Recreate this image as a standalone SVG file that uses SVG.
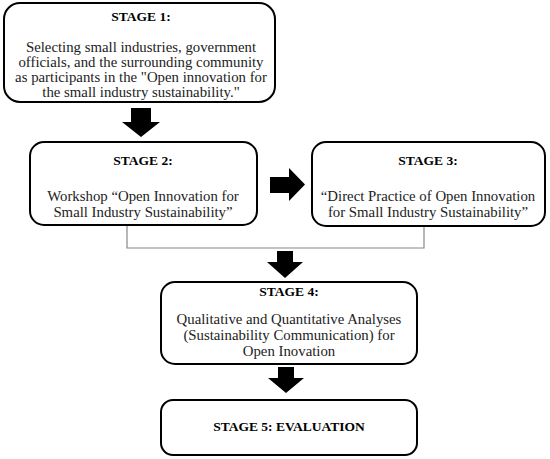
<svg xmlns="http://www.w3.org/2000/svg" width="550" height="459" viewBox="0 0 550 459">
<style>
.box{fill:#fff;stroke:#000;stroke-width:2}
.t{font-family:"Liberation Serif","Times New Roman",serif;font-size:14.8px;fill:#222;text-anchor:middle}
.h{font-family:"Liberation Serif","Times New Roman",serif;font-size:13.5px;font-weight:bold;fill:#000;text-anchor:middle}
.arr{fill:#000}
.con{fill:none;stroke:#888;stroke-width:1.2}
</style>
<rect width="550" height="459" fill="#fff"/>
<g id="connectors">
<polyline class="con" points="127,225 127,248 424,248 424,226"/>
<polygon class="arr" points="131,108 151,108 151,122 160,122 141,137 122,122 131,122"/>
<polygon class="arr" points="270,177 289,177 289,168 305,184.5 289,201 289,193 270,193"/>
<polygon class="arr" points="277,251 293,251 293,262 303,262 285,278 267,262 277,262"/>
<polygon class="arr" points="278,367 294,367 294,378 304,378 286,393 268,378 278,378"/>
</g>
<g id="stage1">
<rect class="box" x="4" y="3" width="271" height="99" rx="16"/>
<text class="h" x="141" y="21">STAGE 1:</text>
<text class="t" x="141" y="52">Selecting small industries, government</text>
<text class="t" x="141" y="67">officials, and the surrounding community</text>
<text class="t" x="141" y="82">as participants in the "Open innovation for</text>
<text class="t" x="141" y="97">the small industry sustainability."</text>
</g>
<g id="stage2">
<rect class="box" x="30" y="142" width="227" height="83" rx="14"/>
<text class="h" x="143" y="165">STAGE 2:</text>
<text class="t" x="143" y="201">Workshop “Open Innovation for</text>
<text class="t" x="143" y="217">Small Industry Sustainability”</text>
</g>
<g id="stage3">
<rect class="box" x="312" y="142" width="233" height="84" rx="14"/>
<text class="h" x="428" y="165">STAGE 3:</text>
<text class="t" x="428" y="201">“Direct Practice of Open Innovation</text>
<text class="t" x="428" y="217">for Small Industry Sustainability”</text>
</g>
<g id="stage4">
<rect class="box" x="161" y="282" width="256" height="82" rx="14"/>
<text class="h" x="289" y="296">STAGE 4:</text>
<text class="t" x="289" y="324">Qualitative and Quantitative Analyses</text>
<text class="t" x="289" y="340">(Sustainability Communication) for</text>
<text class="t" x="289" y="356">Open Inovation</text>
</g>
<g id="stage5">
<rect class="box" x="161" y="400" width="256" height="55" rx="12"/>
<text class="h" x="289" y="431">STAGE 5: EVALUATION</text>
</g>
</svg>
